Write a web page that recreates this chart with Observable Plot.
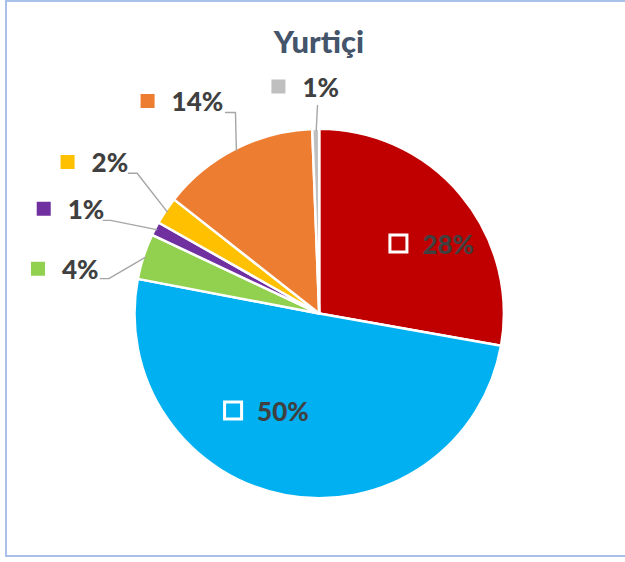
<!DOCTYPE html>
<html>
<head>
<meta charset="utf-8">
<script src="https://cdn.jsdelivr.net/npm/d3@7"></script>
<script src="https://cdn.jsdelivr.net/npm/@observablehq/plot@0.6"></script>
<style>
  html, body { margin: 0; padding: 0; background: #fff; }
  #wrap { position: relative; width: 625px; height: 562px; overflow: hidden; }
  #border { position: absolute; left: 5px; top: 0px; width: 700px; height: 557px;
            border: 2px solid #A9C0EA; box-sizing: border-box; }
  #title { position: absolute; left: 0; top: 22px; width: 638px; text-align: center;
           font-family: Lato, "Open Sans", sans-serif; font-weight: 900; font-size: 31px;
           color: #44546A; line-height: normal; }
  #chart { position: absolute; left: 0; top: 72px; }
</style>
</head>
<body>
<div id="wrap">
  <div id="border"></div>
  <div id="title">Yurtiçi</div>
  <div id="chart"></div>
</div>
<script>
// ---- data ----
const title = "Yurtiçi";
const categories = ["A", "B", "C", "D", "E", "F", "G"];
const shares = [27.8, 50.2, 4.0, 1.2, 2.4, 13.8, 0.6];   // percent
const colors = ["#C00000", "#00B0F0", "#92D050", "#7030A0", "#FFC000", "#ED7D31", "#BFBFBF"];

// ---- layout (radius units, centre of pie = 0,0) ----
const markerPos = [[0.429, 0.384], [-0.472, -0.526], [-1.535, 0.246], [-1.504, 0.573],
                   [-1.374, 0.828], [-0.938, 1.161], [-0.225, 1.240]];
// leader line start and elbow (null = no leader)
const leaderStart = [null, null, [-1.195, 0.193], [-1.179, 0.510], [-1.042, 0.767], [-0.513, 1.098], [-0.012, 1.136]];
const leaderElbow = [null, null, [-1.149, 0.193], [-1.140, 0.510], [-0.995, 0.767], [-0.459, 1.098], [-0.012, 1.136]];

const rows = categories.map((c, i) => ({name: c, value: shares[i], label: Math.round(shares[i]) + "%",
  mx: markerPos[i][0], my: markerPos[i][1]}));

const arcs = d3.pie().sort(null).value(d => d.value)(rows);

const leaders = [];
arcs.forEach((a, i) => {
  if (!leaderStart[i]) return;
  const mid = (a.startAngle + a.endAngle) / 2;
  const pts = [leaderStart[i], leaderElbow[i], [Math.sin(mid), Math.cos(mid)]];
  pts.forEach(p => leaders.push({name: rows[i].name, x: p[0], y: p[1]}));
});

const pieMark = (index, scales, values, dimensions) => {
  const cx = scales.x(0), cy = scales.y(0);
  const R = scales.x(1) - scales.x(0);
  const arc = d3.arc().innerRadius(0).outerRadius(R + 1.2);
  const g = d3.create("svg:g").attr("transform", `translate(${cx},${cy})`);
  g.selectAll("path").data(arcs).join("path")
    .attr("d", arc)
    .attr("fill", d => scales.color(d.data.name))
    .attr("stroke", "white")
    .attr("stroke-width", 2.5)
    .attr("stroke-linejoin", "round");
  return g.node();
};

const chart = Plot.plot({
  width: 625,
  height: 490,
  marginLeft: 135.7,
  marginRight: 122.3,
  marginTop: 58,
  marginBottom: 65,
  x: {domain: [-1, 1], axis: null},
  y: {domain: [-1, 1], axis: null},
  color: {domain: categories, range: colors},
  style: {background: "transparent", overflow: "visible"},
  marks: [
    pieMark,
    Plot.line(leaders, {x: "x", y: "y", z: "name", stroke: "#A6A6A6", strokeWidth: 1.4}),
    Plot.dot(rows, {x: "mx", y: "my", fill: "name", symbol: "square", r: 9.6,
                    stroke: "white", strokeWidth: 3}),
    Plot.text(rows, {x: "mx", y: "my", text: "label", dx: 24, dy: 2, textAnchor: "start",
                     fontFamily: "Lato, 'Open Sans', sans-serif", fontWeight: 900, fontSize: 26,
                     fill: "#404040"})
  ]
});
document.getElementById("chart").appendChild(chart);
</script>
</body>
</html>
